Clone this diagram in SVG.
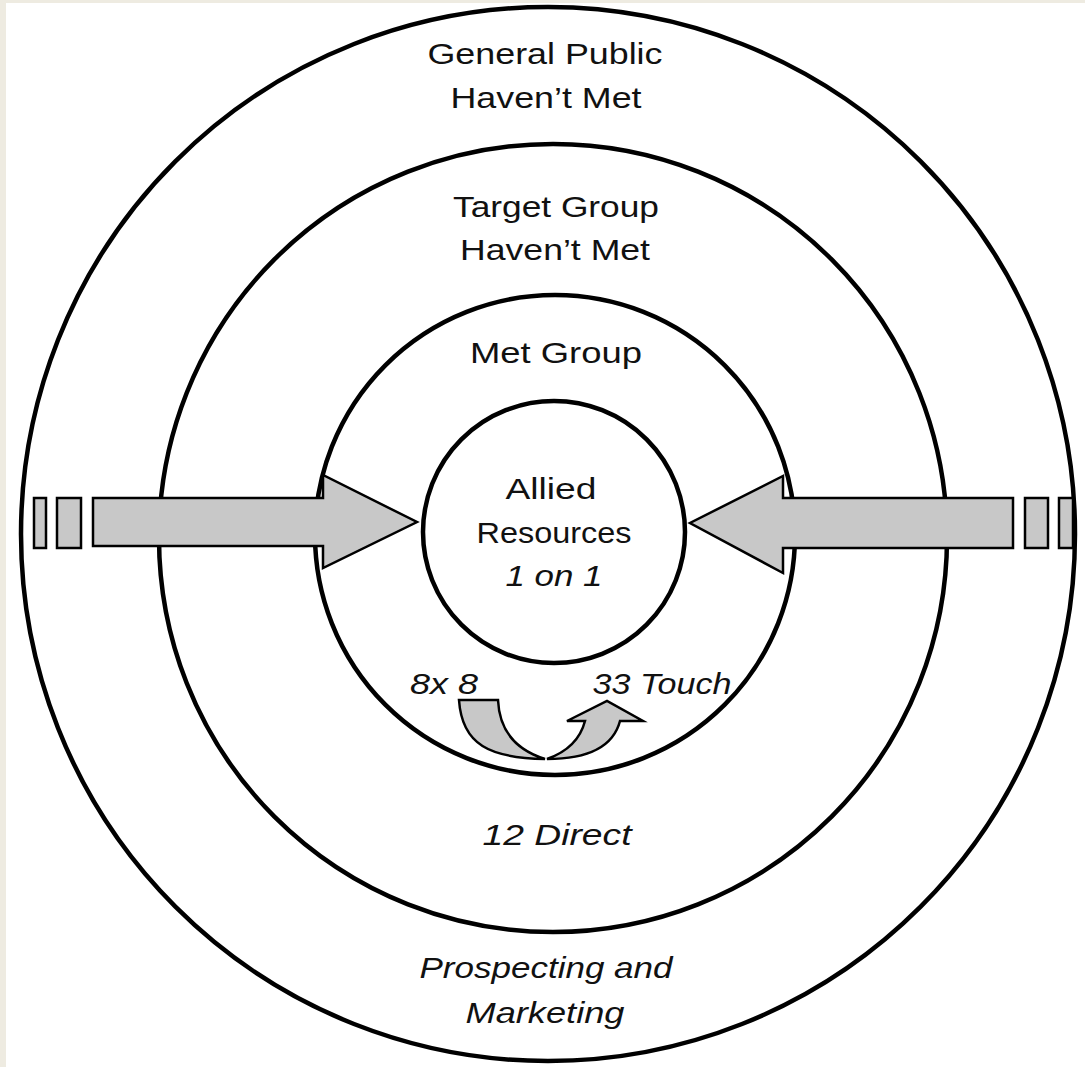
<svg xmlns="http://www.w3.org/2000/svg" width="1085" height="1067" viewBox="0 0 1085 1067">
<style>
.ring{fill:none;stroke:#000;stroke-width:4.5}
.arr{fill:#c8c8c8;stroke:#000;stroke-width:2.5;stroke-linejoin:miter}
.t{font-family:"Liberation Sans",Arial,sans-serif;font-size:30px;fill:#111;text-anchor:middle}
.i{font-style:italic}
</style>
<rect x="0" y="0" width="1085" height="1067" fill="#eeebe1"/>
<rect x="6" y="3" width="1079" height="1064" fill="#fff"/>
<g id="ring-general-public">
<circle class="ring" cx="548" cy="534" r="527"/>
<text class="t" x="545" y="64" textLength="235" lengthAdjust="spacingAndGlyphs">General Public</text>
<text class="t" x="546" y="108" textLength="191" lengthAdjust="spacingAndGlyphs">Haven’t Met</text>
<text class="t i" x="546" y="978" textLength="253" lengthAdjust="spacingAndGlyphs">Prospecting and</text>
<text class="t i" x="545" y="1023" textLength="159" lengthAdjust="spacingAndGlyphs">Marketing</text>
</g>
<g id="ring-target-group">
<circle class="ring" cx="553" cy="538" r="394"/>
<text class="t" x="556" y="217" textLength="206" lengthAdjust="spacingAndGlyphs">Target Group</text>
<text class="t" x="555" y="260" textLength="190" lengthAdjust="spacingAndGlyphs">Haven’t Met</text>
<text class="t i" x="557" y="845" textLength="149" lengthAdjust="spacingAndGlyphs">12 Direct</text>
</g>
<g id="ring-met-group">
<circle class="ring" cx="555" cy="535" r="240"/>
<text class="t" x="556" y="363" textLength="172" lengthAdjust="spacingAndGlyphs">Met Group</text>
<text class="t i" x="444" y="694" textLength="68" lengthAdjust="spacingAndGlyphs">8x 8</text>
<text class="t i" x="662" y="694" textLength="139" lengthAdjust="spacingAndGlyphs">33 Touch</text>
</g>
<g id="allied-resources">
<circle class="ring" cx="554" cy="532" r="131"/>
<text class="t" x="551" y="499" textLength="91" lengthAdjust="spacingAndGlyphs">Allied</text>
<text class="t" x="554" y="543" textLength="155" lengthAdjust="spacingAndGlyphs">Resources</text>
<text class="t i" x="554" y="586" textLength="97" lengthAdjust="spacingAndGlyphs">1 on 1</text>
</g>
<g id="connectors">
<rect class="arr" x="34" y="498" width="12" height="50"/>
<rect class="arr" x="57" y="498" width="24" height="50"/>
<polygon class="arr" points="93,498 323,498 323,475 417,522 323,568 323,546 93,546"/>
<rect class="arr" x="1025" y="498" width="23" height="50"/>
<rect class="arr" x="1059" y="498" width="14" height="50"/>
<polygon class="arr" points="1013,498 783,498 783,476 690,523 783,573 783,548 1013,548"/>
<path class="arr" d="M459,700 L498,700 Q500,745 545,759 C490,758 462,745 459,700 Z"/>
<path class="arr" d="M547,759 Q578,748 585,721 L567,721 L607,701 L643,721 L620,721 Q610,759 547,759 Z"/>
</g>
</svg>
